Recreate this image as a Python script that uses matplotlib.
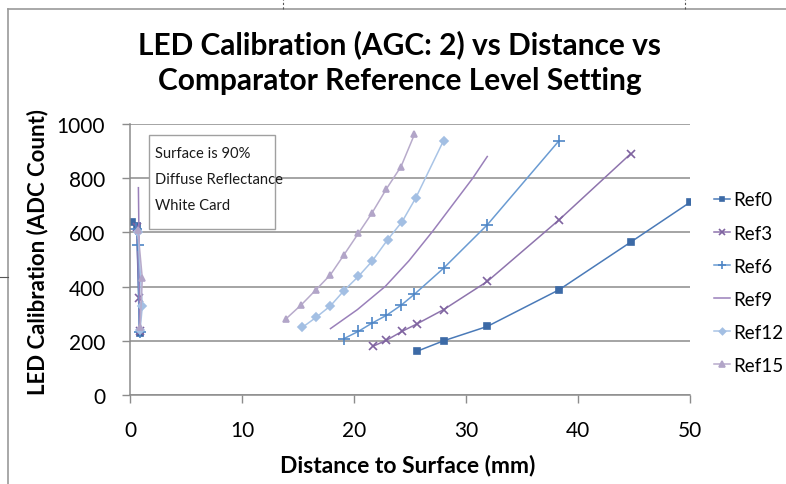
import matplotlib
import matplotlib.pyplot as plt
from matplotlib.lines import Line2D
from matplotlib.patches import Rectangle

matplotlib.use("Agg")
plt.rcParams["font.family"] = ["Lato", "DejaVu Sans"]

# near-zero readings (drawn as a separate short segment per series)
ref0_x0 = [0.2, 0.6, 0.85]
ref0_y0 = [638, 622, 228]
ref3_x0 = [0.6, 0.8, 0.85]
ref3_y0 = [620, 358, 235]
ref6_x0 = [0.55, 0.75, 0.85]
ref6_y0 = [612, 552, 232]
ref9_x0 = [0.75, 0.9]
ref9_y0 = [765, 232]
ref12_x0 = [0.7, 1.1, 0.9]
ref12_y0 = [600, 327, 240]
ref15_x0 = [0.7, 1.1, 0.9]
ref15_y0 = [610, 430, 250]

# main readings
ref0_x = [25.6, 28.0, 31.9, 38.3, 44.7, 50.0]
ref0_y = [161, 200, 253, 388, 564, 711]
ref3_x = [21.7, 22.9, 24.3, 25.6, 28.0, 31.9, 38.3, 44.7]
ref3_y = [180, 202, 235, 262, 315, 419, 646, 890]
ref6_x = [19.1, 20.4, 21.6, 22.9, 24.2, 25.4, 28.0, 31.9, 38.3]
ref6_y = [208, 235, 265, 294, 331, 372, 468, 628, 938]
ref9_x = [17.9, 20.3, 22.8, 24.9, 27.0, 30.6, 31.9]
ref9_y = [245, 315, 401, 495, 603, 800, 880]
ref12_x = [15.4, 16.6, 17.9, 19.1, 20.4, 21.6, 23.0, 24.3, 25.5, 28.0]
ref12_y = [250, 286, 329, 385, 438, 493, 573, 640, 726, 939]
ref15_x = [13.9, 15.3, 16.6, 17.9, 19.1, 20.4, 21.6, 22.9, 24.2, 25.4]
ref15_y = [280, 333, 388, 444, 517, 597, 671, 761, 843, 962]

x_ticks = [0, 10, 20, 30, 40, 50]
y_ticks = [0, 200, 400, 600, 800, 1000]

series = [
    ("Ref0", ref0_x0, ref0_y0, ref0_x, ref0_y, "#3c6aa6", "#4a7ab8", "s", 4.2),
    ("Ref3", ref3_x0, ref3_y0, ref3_x, ref3_y, "#7f63a0", "#8e74ad", "x", 5.5),
    ("Ref6", ref6_x0, ref6_y0, ref6_x, ref6_y, "#4f86c6", "#6a9bd2", "+", 8),
    ("Ref9", ref9_x0, ref9_y0, ref9_x, ref9_y, "#9a80ba", "#9a80ba", None, 0),
    ("Ref12", ref12_x0, ref12_y0, ref12_x, ref12_y, "#a3bfe3", "#a9c4e6", "D", 4),
    ("Ref15", ref15_x0, ref15_y0, ref15_x, ref15_y, "#b2a5c8", "#b8abcb", "^", 5),
]

fig = plt.figure(figsize=(7.86, 4.85), dpi=100)
W, H = 786, 485

# sheet frame
fig.add_artist(Line2D([8 / W, 8 / W], [0, 1 - 10 / H], color="#9a9a9a", lw=1.2))
fig.add_artist(Line2D([8 / W, 1], [1 - 10 / H, 1 - 10 / H], color="#9a9a9a", lw=1.2))
for px in (283, 685):
    fig.add_artist(Line2D([px / W, px / W], [1 - 10 / H, 1], color="#555555",
                          lw=0.8, ls=(0, (2, 2))))
fig.add_artist(Line2D([0, 8 / W], [1 - 278 / H, 1 - 278 / H], color="#555555", lw=0.8))

ax = fig.add_axes([130 / W, 1 - 396 / H, 560 / W, 271 / H])

handles = []
for name, x0, y0, xs, ys, mc, lc, mk, ms in series:
    ax.plot(x0, y0, color=lc, lw=1.1, marker=mk, ms=ms, mfc=mc, mec=mc, mew=1.2)
    (h,) = ax.plot(xs, ys, color=lc, lw=1.1, marker=mk, ms=ms, mfc=mc, mec=mc,
                   mew=1.2, label=name)
    handles.append(h)

ax.set_xlim(0, 50)
ax.set_ylim(0, 1000)
ax.set_xticks(x_ticks)
ax.set_yticks(y_ticks)
ax.yaxis.grid(True, color="#8c8c8c", lw=1.1)
ax.set_axisbelow(True)
for s in ("top", "right"):
    ax.spines[s].set_visible(False)
for s in ("left", "bottom"):
    ax.spines[s].set_color("#8c8c8c")
    ax.spines[s].set_linewidth(1.1)
ax.tick_params(axis="both", direction="out", length=6, width=1, color="#8c8c8c",
               labelsize=15)
ax.tick_params(axis="y", pad=12)
ax.tick_params(axis="x", pad=12)

ax.set_xlabel("Distance to Surface (mm)", fontsize=16.5, fontweight="bold")
ax.set_ylabel("LED Calibration (ADC Count)", fontsize=16, fontweight="bold")
ax.xaxis.set_label_coords(0.495, -0.215)
ax.yaxis.set_label_coords(-0.145, 0.53)

fig.text(400 / W, 1 - 45 / H, "LED Calibration (AGC: 2) vs Distance vs",
         ha="center", va="center", fontsize=21.5, fontweight="bold")
fig.text(400 / W, 1 - 81 / H, "Comparator Reference Level Setting",
         ha="center", va="center", fontsize=21.5, fontweight="bold")

# annotation box
fig.add_artist(Rectangle((149 / W, 1 - 230 / H), 126 / W, 94 / H, transform=fig.transFigure,
                         facecolor="white", edgecolor="#a0a0a0", lw=1))
fig.text(155 / W, 1 - 180 / H, "Surface is 90%\nDiffuse Reflectance\nWhite Card",
         ha="left", va="center", fontsize=10.6, linespacing=2.05, color="#1a1a1a")

fig.legend(handles=handles, loc="upper left", bbox_to_anchor=(705 / W, 1 - 183 / H),
           frameon=False, fontsize=13.5, handlelength=0.85, handletextpad=0.15,
           labelspacing=0.86, borderpad=0, markerscale=0.8)

fig.savefig("out.png", dpi=100)
